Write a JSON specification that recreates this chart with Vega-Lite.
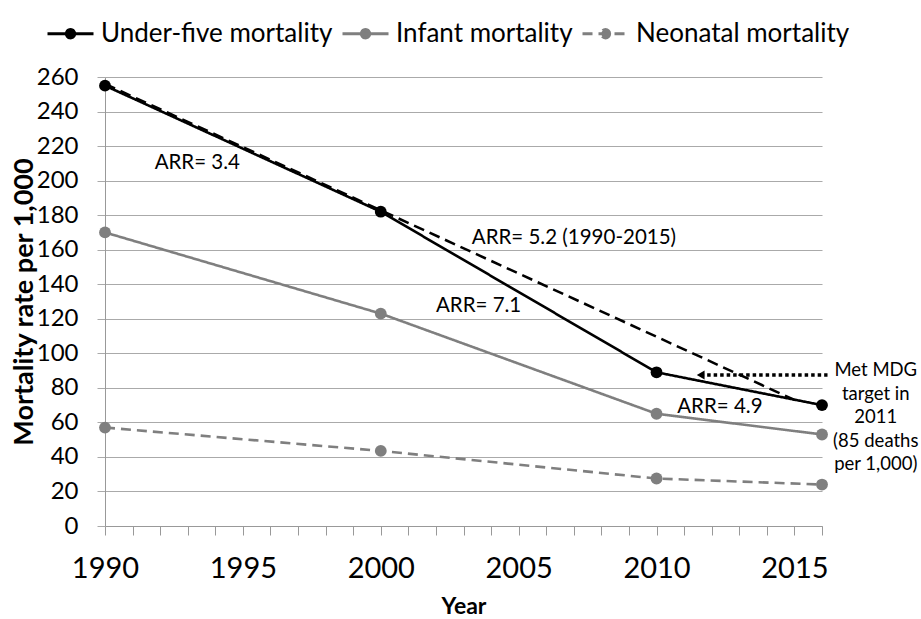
{
  "$schema": "https://vega.github.io/schema/vega-lite/v6.json",
  "width": 717,
  "height": 449,
  "autosize": {"type": "none"},
  "padding": {"left": 105, "top": 77, "right": 99, "bottom": 93},
  "background": "white",
  "config": {
    "font": "Lato",
    "view": {"stroke": null},
    "axis": {"labelFont": "Lato", "titleFont": "Lato", "labelColor": "black", "titleColor": "black"}
  },
  "datasets": {
    "series": [
      {"series": "Under-five mortality", "year": 1990, "rate": 255},
      {"series": "Under-five mortality", "year": 2000, "rate": 182},
      {"series": "Under-five mortality", "year": 2010, "rate": 89},
      {"series": "Under-five mortality", "year": 2016, "rate": 70},
      {"series": "Infant mortality", "year": 1990, "rate": 170},
      {"series": "Infant mortality", "year": 2000, "rate": 123},
      {"series": "Infant mortality", "year": 2010, "rate": 65},
      {"series": "Infant mortality", "year": 2016, "rate": 53},
      {"series": "Neonatal mortality", "year": 1990, "rate": 57},
      {"series": "Neonatal mortality", "year": 2000, "rate": 43.5},
      {"series": "Neonatal mortality", "year": 2010, "rate": 27.5},
      {"series": "Neonatal mortality", "year": 2016, "rate": 24}
    ],
    "trend": [
      {"year": 1990, "rate": 256},
      {"year": 2015, "rate": 73}
    ],
    "arrow": [
      {"year": 2011.6, "year_end": 2016.2, "rate": 87.4}
    ],
    "notes": [
      {"year": 1991.8, "rate": 210, "text": "ARR= 3.4"},
      {"year": 2003.3, "rate": 167, "text": "ARR= 5.2 (1990-2015)"},
      {"year": 2002.0, "rate": 127.5, "text": "ARR= 7.1"},
      {"year": 2010.75, "rate": 69, "text": "ARR= 4.9"}
    ],
    "mdg": [
      {"year": 2017.95, "rate": 90.3, "text": ["Met MDG", "target in", "2011", "(85 deaths", "per 1,000)"]}
    ]
  },
  "encoding": {
    "x": {
      "field": "year", "type": "quantitative",
      "scale": {"domain": [1990, 2016], "nice": false, "zero": false},
      "axis": {
        "title": "Year",
        "values": [1990,1991,1992,1993,1994,1995,1996,1997,1998,1999,2000,2001,2002,2003,2004,2005,2006,2007,2008,2009,2010,2011,2012,2013,2014,2015,2016],
        "tickCount": 27,
        "labelExpr": "datum.value % 5 == 0 ? format(datum.value, 'd') : ''",
        "labelFontSize": 29,
        "labelPadding": 19,
        "labelFlush": false,
        "labelOverlap": false,
        "tickSize": 9,
        "tickColor": "#999999",
        "domainColor": "#999999",
        "grid": false,
        "titleFontSize": 23,
        "titleFontWeight": "bold",
        "titleY": 87,
        "titleBaseline": "alphabetic"
      }
    },
    "y": {
      "field": "rate", "type": "quantitative",
      "scale": {"domain": [0, 260], "nice": false},
      "axis": {
        "title": "Mortality rate per 1,000",
        "values": [0,20,40,60,80,100,120,140,160,180,200,220,240,260],
        "tickCount": 14,
        "labelOverlap": false,
        "labelFontSize": 24,
        "labelPadding": 19,
        "tickSize": 8,
        "tickColor": "#aaaaaa",
        "domainColor": "#999999",
        "grid": true,
        "gridColor": "#aaaaaa",
        "gridWidth": 1.2,
        "titleFontSize": 27,
        "titleFontWeight": "bold",
        "titleX": -73,
        "titleBaseline": "alphabetic"
      }
    }
  },
  "layer": [
    {
      "data": {"name": "series"},
      "mark": {"type": "line", "strokeWidth": 2.6},
      "encoding": {
        "color": {
          "field": "series", "type": "nominal",
          "scale": {"domain": ["Under-five mortality", "Infant mortality", "Neonatal mortality"], "range": ["#000000", "#7f7f7f", "#7f7f7f"]},
          "legend": {
            "title": null,
            "orient": "none",
            "direction": "horizontal",
            "legendX": -59,
            "legendY": -68,
            "labelFontSize": 26,
            "labelFont": "Lato",
            "labelColor": "black",
            "labelLimit": 500,
            "labelOffset": 6,
            "columnPadding": 3,
            "symbolType": "M-1,0H1M0.18,0A0.18,0.18,0,1,1,-0.18,0A0.18,0.18,0,1,1,0.18,0",
            "symbolSize": 2116,
            "symbolStrokeWidth": 3,
            "encode": {"symbols": {"update": {"fill": {"scale": "color", "field": "value"}}}}
          }
        },
        "strokeDash": {
          "field": "series", "type": "nominal",
          "scale": {"domain": ["Under-five mortality", "Infant mortality", "Neonatal mortality"], "range": [[1, 0], [1, 0], [10, 6]]},
          "legend": {
            "title": null,
            "orient": "none",
            "direction": "horizontal",
            "legendX": -59,
            "legendY": -68,
            "labelFontSize": 26,
            "labelFont": "Lato",
            "labelColor": "black",
            "labelLimit": 500,
            "labelOffset": 6,
            "columnPadding": 3,
            "symbolType": "M-1,0H1M0.18,0A0.18,0.18,0,1,1,-0.18,0A0.18,0.18,0,1,1,0.18,0",
            "symbolSize": 2116,
            "symbolStrokeWidth": 3
          }
        }
      }
    },
    {
      "data": {"name": "series"},
      "mark": {"type": "point", "filled": true, "size": 140, "opacity": 1},
      "encoding": {
        "color": {"field": "series", "type": "nominal"}
      }
    },
    {
      "data": {"name": "trend"},
      "mark": {"type": "line", "color": "black", "strokeWidth": 2.5, "strokeDash": [11, 6]}
    },
    {
      "data": {"name": "arrow"},
      "mark": {"type": "rule", "color": "black", "strokeWidth": 3.5, "strokeDash": [3.5, 3]},
      "encoding": {
        "x2": {"field": "year_end"}
      }
    },
    {
      "data": {"name": "arrow"},
      "mark": {"type": "point", "shape": "triangle-left", "filled": true, "color": "black", "size": 80, "opacity": 1}
    },
    {
      "data": {"name": "notes"},
      "mark": {"type": "text", "align": "left", "baseline": "middle", "fontSize": 20.5, "font": "Lato", "color": "black"},
      "encoding": {
        "text": {"field": "text"}
      }
    },
    {
      "data": {"name": "mdg"},
      "mark": {"type": "text", "align": "center", "baseline": "middle", "fontSize": 18.5, "lineHeight": 23.5, "font": "Lato", "color": "black"},
      "encoding": {
        "text": {"field": "text"}
      }
    }
  ]
}
